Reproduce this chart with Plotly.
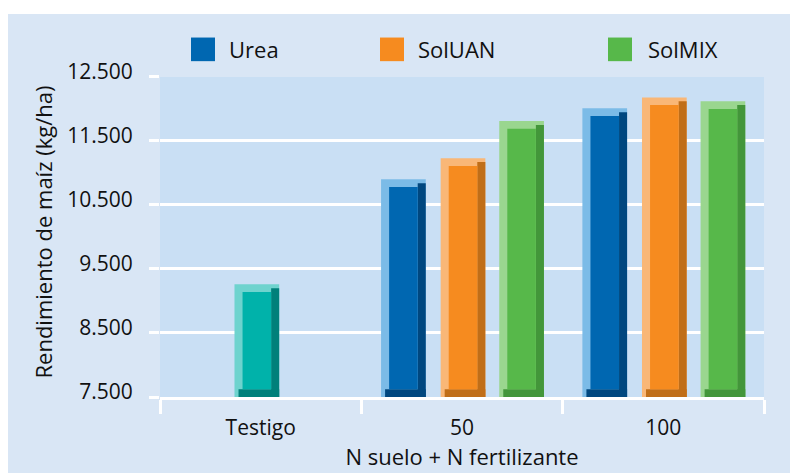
import plotly.graph_objects as go

# ---- data ----
categories = ["Testigo", "50", "100"]
group_categories = ["50", "100"]
series_names = ["Urea", "SolUAN", "SolMIX"]
testigo_value = [9260]
urea_values = [10900, 12010]
soluan_values = [11230, 12180]
solmix_values = [11810, 12120]
y_ticks = [7500, 8500, 9500, 10500, 11500, 12500]
y_range = [7500, 12500]

# ---- style ----
BASE = 7500
W = 0.222          # bar width (category units)
BX = 0.040         # bevel width (category units)
BY = 120           # bevel height (data units)
FONT = "Open Sans"
TXT = "#111111"
TICK_SIZE = 21
TITLE_SIZE = 22

palette = {
    "Testigo": dict(face="#00B2AA", light="#6ED3CE", dark="#00807A", off=-0.13),
    "Urea": dict(face="#0067B1", light="#7BBBE7", dark="#00477F", off=-0.402),
    "SolUAN": dict(face="#F68B1F", light="#F9B777", dark="#C06E18", off=-0.106),
    "SolMIX": dict(face="#57B84A", light="#9AD68F", dark="#43963A", off=0.185),
}

fig = go.Figure()


def bevel_bar(name, xs, vals):
    p = palette[name]
    o = p["off"]
    # light outer body (left strip + top bevel)
    fig.add_bar(x=xs, y=[v - BASE for v in vals], base=BASE, offset=o, width=W,
                marker=dict(color=p["light"], line=dict(width=0)), name=name,
                showlegend=False, hoverinfo="skip")
    # dark right strip
    fig.add_bar(x=xs, y=[v - BASE - BY * 0.5 for v in vals], base=BASE,
                offset=o + W - BX, width=BX,
                marker=dict(color=p["dark"], line=dict(width=0)),
                showlegend=False, hoverinfo="skip")
    # dark bottom bevel
    fig.add_bar(x=xs, y=[BY for v in vals], base=BASE,
                offset=o + BX * 0.5, width=W - BX * 0.5,
                marker=dict(color=p["dark"], line=dict(width=0)),
                showlegend=False, hoverinfo="skip")
    # front face
    fig.add_bar(x=xs, y=[v - BASE - 2 * BY for v in vals], base=BASE + BY,
                offset=o + BX, width=W - 2 * BX,
                marker=dict(color=p["face"], line=dict(width=0)), name=name,
                showlegend=False,
                hovertemplate=name + ": %{x} = %{customdata:,d}<extra></extra>",
                customdata=vals)


bevel_bar("Testigo", ["Testigo"], testigo_value)
bevel_bar("Urea", group_categories, urea_values)
bevel_bar("SolUAN", group_categories, soluan_values)
bevel_bar("SolMIX", group_categories, solmix_values)

# invisible anchor trace so the label axis (y2) is drawn
fig.add_scatter(x=[categories[0]], y=[y_range[0]], xaxis="x", yaxis="y2",
                mode="markers", marker=dict(opacity=0), showlegend=False,
                hoverinfo="skip")

# ---- layout geometry ----
WIDTH, HEIGHT = 790, 473
ML, MR, MT, MB = 160, 26, 72, 71
LABEL_LIFT = 5     # tick labels sit a few px above their gridlines
PW = WIDTH - ML - MR
PH = HEIGHT - MT - MB


def px(xp):
    return (xp - ML) / PW


def py(yp):
    return (HEIGHT - MB - yp) / PH


shapes = [
    # chart panel background
    dict(type="rect", xref="paper", yref="paper", x0=px(8), x1=px(800),
         y0=py(480), y1=py(13), fillcolor="#D9E6F5", line=dict(width=0),
         layer="below"),
    # plot area background
    dict(type="rect", xref="x domain", yref="y domain", x0=0, x1=1, y0=0, y1=1,
         fillcolor="#C9DFF4", line=dict(width=0), layer="below"),
]
annotations = []
legend_pos = {"Urea": (191, 229), "SolUAN": (380, 418), "SolMIX": (608, 648)}
for name in series_names:
    sx, tx = legend_pos[name]
    shapes.append(dict(type="rect", xref="paper", yref="paper",
                       x0=px(sx), x1=px(sx + 24), y0=py(61), y1=py(37),
                       fillcolor=palette[name]["face"], line=dict(width=0)))
    annotations.append(dict(text=name, xref="paper", yref="paper",
                            x=px(tx - 2), y=py(49), xanchor="left", yanchor="middle",
                            showarrow=False,
                            font=dict(family=FONT, size=TITLE_SIZE, color=TXT)))

fig.update_layout(
    width=WIDTH, height=HEIGHT,
    margin=dict(l=ML, r=MR, t=MT, b=MB),
    paper_bgcolor="white",
    plot_bgcolor="rgba(0,0,0,0)",
    barmode="overlay",
    separators=",.",
    showlegend=False,
    font=dict(family=FONT, size=TICK_SIZE, color=TXT),
    shapes=shapes,
    annotations=annotations,
    xaxis=dict(
        type="category", categoryorder="array", categoryarray=categories,
        range=[-0.5, 2.5], anchor="y",
        showline=True, linecolor="white", linewidth=3,
        ticks="outside", tickson="boundaries", ticklen=14, tickwidth=3,
        tickcolor="white", showgrid=False, ticklabelstandoff=10,
        tickfont=dict(family=FONT, size=TICK_SIZE, color=TXT),
        title=dict(text="N suelo + N fertilizante", standoff=4,
                   font=dict(family=FONT, size=TITLE_SIZE, color=TXT)),
    ),
    xaxis2=dict(
        overlaying="x", anchor="y", range=[-0.5, 2.5], tickvals=[0.5, 1.5],
        ticks="inside", ticklen=10, tickwidth=3, tickcolor="white",
        showticklabels=False, showgrid=False, zeroline=False, showline=False,
        side="bottom",
    ),
    # grid + tick marks
    yaxis=dict(
        domain=[0, (PH - LABEL_LIFT) / PH], anchor="x",
        range=y_range, tickvals=y_ticks, showticklabels=False,
        showgrid=True, gridcolor="white", gridwidth=3, zeroline=False,
        ticks="outside", ticklen=10, tickwidth=3, tickcolor="white",
    ),
    # tick labels + title (lifted a few px, as in the original)
    yaxis2=dict(
        domain=[LABEL_LIFT / PH, 1], anchor="x",
        range=y_range, tickvals=y_ticks, tickformat=",d",
        showgrid=False, zeroline=False, showline=False,
        ticks="outside", ticklen=10, tickwidth=3, tickcolor="rgba(0,0,0,0)",
        ticklabelstandoff=12,
        tickfont=dict(family=FONT, size=TICK_SIZE, color=TXT),
        title=dict(text="Rendimiento de maíz (kg/ha)", standoff=8,
                   font=dict(family=FONT, size=TITLE_SIZE, color=TXT)),
    ),
)

fig.write_html("out.html", post_script="document.body.style.margin='0';",
               config={"displayModeBar": False})
